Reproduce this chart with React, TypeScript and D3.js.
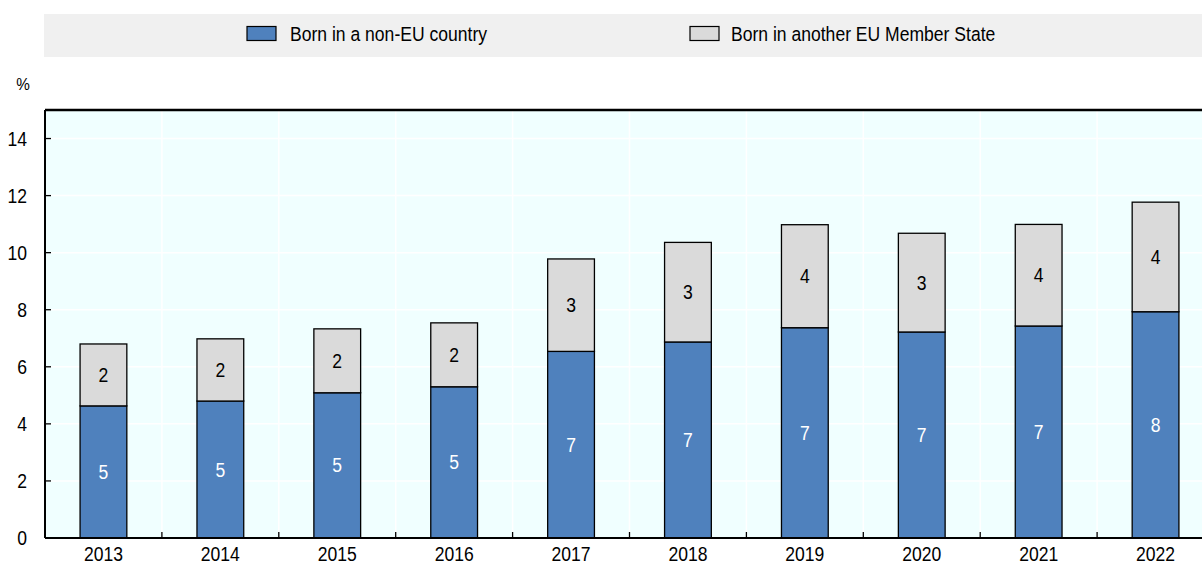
import React from "react";
import * as d3 from "d3";

const years = ["2013", "2014", "2015", "2016", "2017", "2018", "2019", "2020", "2021", "2022"];
const nonEU = [4.63, 4.8, 5.09, 5.3, 6.54, 6.87, 7.37, 7.22, 7.43, 7.93];
const otherEU = [2.17, 2.18, 2.24, 2.24, 3.24, 3.49, 3.61, 3.46, 3.56, 3.84];
const yTicks = [0, 2, 4, 6, 8, 10, 12, 14];
const seriesNames = ["Born in a non-EU country", "Born in another EU Member State"];
const seriesColors = ["#4F81BD", "#DADADA"];

const W = 1202;
const H = 564;
const FONT = "'Liberation Sans', Arial, sans-serif";
const FS = 19.5;
const SX = 0.9;

function T(props: { x: number; y: number; anchor?: string; fill?: string; size?: number; children: any }) {
  const { x, y, anchor = "start", fill = "#000", size = FS, children } = props;
  return (
    <g transform={`translate(${x},${y}) scale(${SX},1)`}>
      <text x={0} y={0} fontSize={size} textAnchor={anchor} fill={fill}>
        {children}
      </text>
    </g>
  );
}

export default function App() {
  const x = d3.scaleBand<string>().domain(years).range([45, 1214]).paddingInner(0.6).paddingOuter(0.3);
  const y = d3.scaleLinear().domain([0, 15]).range([538, 110]);
  const step = x.step();
  const left = 45;
  const bounds = d3.range(1, years.length + 1).map((i) => left + i * step);

  const rows = years.map((yr, i) => ({ yr, a: nonEU[i], b: otherEU[i] }));
  const stack = d3.stack<any>().keys(["a", "b"])(rows as any);

  return (
    <svg width={W} height={H} style={{ position: "absolute", left: 0, top: 0, overflow: "hidden" }} fontFamily={FONT}>
      {/* legend */}
      <rect x={44} y={14} width={W - 44} height={43} fill="#F0F0F0" />
      {[{ sx: 247, tx: 290 }, { sx: 690, tx: 731 }].map((p, i) => (
        <g key={i}>
          <rect x={p.sx} y={26.5} width={29} height={14} fill={seriesColors[i]} stroke="#000" strokeWidth={1.2} />
          <T x={p.tx} y={41}>{seriesNames[i]}</T>
        </g>
      ))}
      <T x={23} y={90} anchor="middle" size={17}>%</T>

      {/* plot background */}
      <rect x={left} y={y(15)} width={W - left} height={y(0) - y(15)} fill="#F0FFFF" />
      {yTicks.filter((t) => t > 0).map((t) => (
        <line key={t} x1={left} x2={W} y1={y(t)} y2={y(t)} stroke="#fff" strokeWidth={1.5} />
      ))}
      {bounds.map((b, i) => (
        <line key={i} x1={b} x2={b} y1={y(15)} y2={y(0)} stroke="#fff" strokeWidth={1.5} />
      ))}

      {/* bars */}
      {stack.map((s, si) =>
        s.map((d, i) => (
          <rect
            key={si + "-" + i}
            x={x(years[i])!}
            y={y(d[1])}
            width={x.bandwidth()}
            height={y(d[0]) - y(d[1])}
            fill={seriesColors[si]}
            stroke="#000"
            strokeWidth={1.3}
          />
        ))
      )}
      {stack.map((s, si) =>
        s.map((d, i) => (
          <T
            key={"l" + si + "-" + i}
            x={x(years[i])! + x.bandwidth() / 2}
            y={(y(d[0]) + y(d[1])) / 2 + 7}
            anchor="middle"
            fill={si === 0 ? "#fff" : "#000"}
          >
            {Math.round(d[1] - d[0])}
          </T>
        ))
      )}

      {/* axes */}
      <line x1={left} x2={W} y1={y(15)} y2={y(15)} stroke="#000" strokeWidth={2.5} />
      <line x1={left} x2={left} y1={y(15)} y2={y(0)} stroke="#000" strokeWidth={2} />
      <line x1={left} x2={W} y1={y(0)} y2={y(0)} stroke="#000" strokeWidth={2} />
      {yTicks.map((t) => (
        <g key={t}>
          <line x1={left} x2={left + 6} y1={y(t)} y2={y(t)} stroke="#000" strokeWidth={1.3} />
          <T x={27} y={y(t) + 7} anchor="end">{t}</T>
        </g>
      ))}
      {bounds.map((b, i) => (
        <line key={"t" + i} x1={b} x2={b} y1={y(0)} y2={y(0) - 6} stroke="#000" strokeWidth={1.3} />
      ))}
      {years.map((yr) => (
        <T key={yr} x={x(yr)! + x.bandwidth() / 2} y={561} anchor="middle">{yr}</T>
      ))}
    </svg>
  );
}
